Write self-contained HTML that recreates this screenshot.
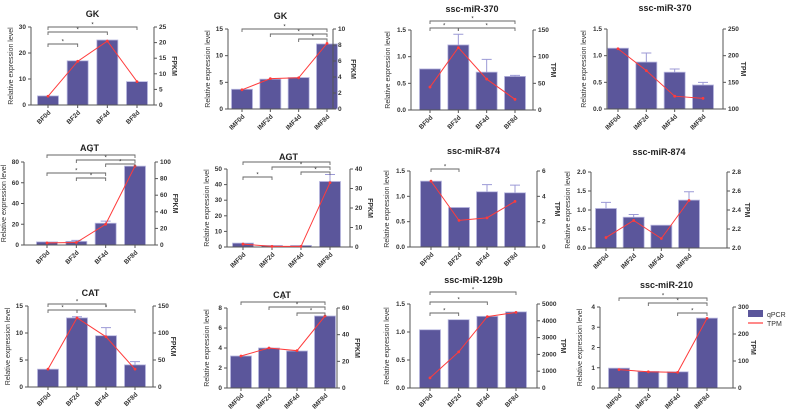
<!DOCTYPE html>
<html><head><meta charset="utf-8"><style>
body{margin:0;background:#fff}
svg{display:block;font-family:"Liberation Sans",Arial,sans-serif}
</style></head><body>
<svg id="fig" width="787" height="414" viewBox="0 0 787 414" xmlns="http://www.w3.org/2000/svg"></svg>
<script>
const bfCats = ["BF0d","BF2d","BF4d","BF8d"];
const imfCats = ["IMF0d","IMF2d","IMF4d","IMF8d"];
// values
const gkBfQ = [3.5,17,25,9];         const gkBfE = [null,null,null,null]; const gkBfS = [2.8,14,20.5,7.5];
const gkImfQ = [3.7,5.6,5.9,12.2];   const gkImfE = [null,null,null,null]; const gkImfS = [2.4,3.8,3.9,8.2];
const m370BfQ = [0.77,1.22,0.71,0.63]; const m370BfE = [null,1.42,0.95,0.65]; const m370BfS = [43,117,58,20];
const m370ImfQ = [1.14,0.88,0.69,0.45]; const m370ImfE = [null,1.05,0.75,0.5]; const m370ImfS = [213,172,124,120];
const agtBfQ = [3,3.5,21,76];        const agtBfE = [null,4.5,23,null]; const agtBfS = [2.5,3,25,95];
const agtImfQ = [2.5,1,1,42];        const agtImfE = [null,null,null,46.5]; const agtImfS = [1.5,0.3,0.3,33];
const m874BfQ = [1.3,0.78,1.09,1.07]; const m874BfE = [null,null,1.23,1.22]; const m874BfS = [5.2,2.1,2.3,3.6];
const m874ImfQ = [1.04,0.81,0.6,1.26]; const m874ImfE = [1.2,0.88,null,1.48]; const m874ImfS = [2.11,2.29,2.1,2.5];
const catBfQ = [3.3,12.8,9.5,4.1];   const catBfE = [null,13,11,4.7]; const catBfS = [33,128,93,33];
const catImfQ = [3.2,4.0,3.7,7.2];   const catImfE = [null,null,null,null]; const catImfS = [24,30,28,54];
const m129BfQ = [1.04,1.22,1.28,1.36]; const m129BfE = [null,null,null,null]; const m129BfS = [600,2150,4250,4500];
const m210ImfQ = [0.98,0.82,0.8,3.45]; const m210ImfE = [null,null,null,null]; const m210ImfS = [68,60,58,258];
// tick labels
const t30=[0,10,20,30], t25=[0,5,10,15,20,25], t15=[0,5,10,15], t10=[0,2,4,6,8,10];
const t15d=[0,0.5,1.0,1.5], t150=[0,50,100,150], t250=[100,150,200,250];
const t80=[0,20,40,60,80], t100=[0,20,40,60,80,100], t50=[0,10,20,30,40,50], t40=[0,10,20,30,40];
const t6=[0,2,4,6], t20=[0,0.5,1.0,1.5,2.0], t28=[2.0,2.2,2.4,2.6,2.8];
const t8=[0,2,4,6,8], t60=[0,20,40,60], t5000=[0,1000,2000,3000,4000,5000], t4=[0,1,2,3,4], t300=[0,100,200,300];

const panels=[
 {n:"gk-bf",title:"GK",cats:bfCats,q:gkBfQ,e:gkBfE,s:gkBfS,lt:t30,rt:t25,rl:"FPKM",dec:0,x0:31,x1:154,yt:27,yb:105,c0:48,c3:137,ty:17,br:[[0,3,27],[0,2,32],[0,1,44]]},
 {n:"gk-imf",title:"GK",cats:imfCats,q:gkImfQ,e:gkImfE,s:gkImfS,lt:t15,rt:t10,rl:"FPKM",dec:0,x0:228,x1:333,yt:29,yb:109,c0:242,c3:327,ty:19,br:[[0,3,29],[1,3,34],[2,3,39]]},
 {n:"mir370-bf",title:"ssc-miR-370",cats:bfCats,q:m370BfQ,e:m370BfE,s:m370BfS,lt:t15d,rt:t150,rl:"TPM",dec:1,x0:411,x1:533,yt:30,yb:110,c0:430,c3:515,ty:12,br:[[0,3,21],[0,1,28],[1,3,28]]},
 {n:"mir370-imf",title:"ssc-miR-370",cats:imfCats,q:m370ImfQ,e:m370ImfE,s:m370ImfS,lt:t15d,rt:t250,rl:"TPM",dec:1,x0:607,x1:723,yt:29,yb:109,c0:618,c3:703,ty:11,br:[]},
 {n:"agt-bf",title:"AGT",cats:bfCats,q:agtBfQ,e:agtBfE,s:agtBfS,lt:t80,rt:t100,rl:"FPKM",dec:0,x0:24,x1:155,yt:162,yb:245,c0:47,c3:135,ty:151,br:[[0,3,155],[1,3,160],[2,3,164],[0,2,173],[1,2,178]]},
 {n:"agt-imf",title:"AGT",cats:imfCats,q:agtImfQ,e:agtImfE,s:agtImfS,lt:t50,rt:t40,rl:"FPKM",dec:0,x0:227,x1:350,yt:169,yb:247,c0:243,c3:330,ty:160,br:[[0,3,162],[1,3,167],[2,3,172],[0,1,177]]},
 {n:"mir874-bf",title:"ssc-miR-874",cats:bfCats,q:m874BfQ,e:m874BfE,s:m874BfS,lt:t15d,rt:t6,rl:"TPM",dec:1,x0:410,x1:537,yt:171,yb:247,c0:431,c3:515,ty:154,br:[[0,1,169]]},
 {n:"mir874-imf",title:"ssc-miR-874",cats:imfCats,q:m874ImfQ,e:m874ImfE,s:m874ImfS,lt:t20,rt:t28,rl:"TPM",dec:1,x0:591,x1:727,yt:172,yb:248,c0:606,c3:689,ty:155,br:[],rdec:1},
 {n:"cat-bf",title:"CAT",cats:bfCats,q:catBfQ,e:catBfE,s:catBfS,lt:t15,rt:t150,rl:"FPKM",dec:0,x0:28,x1:153,yt:306,yb:387,c0:48,c3:135,ty:296,br:[[0,2,304],[0,1,310],[1,3,310]]},
 {n:"cat-imf",title:"CAT",cats:imfCats,q:catImfQ,e:catImfE,s:catImfS,lt:t8,rt:t60,rl:"FPKM",dec:0,x0:227,x1:337,yt:308,yb:388,c0:241,c3:325,ty:298,br:[[0,3,302],[1,3,307],[2,3,313]]},
 {n:"mir129b-bf",title:"ssc-miR-129b",cats:bfCats,q:m129BfQ,e:m129BfE,s:m129BfS,lt:t15d,rt:t5000,rl:"TPM",dec:1,x0:410,x1:537,yt:304,yb:388,c0:430,c3:516,ty:283,br:[[0,3,292],[0,2,302],[0,1,313]]},
 {n:"mir210-imf",title:"ssc-miR-210",cats:imfCats,q:m210ImfQ,e:m210ImfE,s:m210ImfS,lt:t4,rt:t300,rl:"TPM",dec:0,x0:600,x1:733,yt:307,yb:388,c0:619,c3:707,ty:288,br:[[0,3,298],[1,3,303],[2,3,313]]}
];
const NS="http://www.w3.org/2000/svg", svg=document.getElementById("fig");
function mk(tag,at,parent,txt){const e=document.createElementNS(NS,tag);for(const k in at)e.setAttribute(k,at[k]);if(txt!=null)e.textContent=txt;(parent||svg).appendChild(e);return e;}
const ax="#555", barC="#5b569b", barEdge="#b9b8e0", errC="#9c9ad6", lineC="#ff3b3b";
panels.forEach(p=>{
  const g=mk("g",{});
  
  
  const lmin=p.lt[0],lmax=p.lt[p.lt.length-1],rmin=p.rt[0],rmax=p.rt[p.rt.length-1];
  const yL=v=>p.yb-(v-lmin)/(lmax-lmin)*(p.yb-p.yt);
  const yR=v=>p.yb-(v-rmin)/(rmax-rmin)*(p.yb-p.yt);
  const xC=i=>p.c0+i*(p.c3-p.c0)/(p.cats.length-1);
  const bw=21;
  const t=mk("text",{x:(p.x0+p.x1)/2,y:p.ty,"text-anchor":"middle","font-size":9,"font-weight":"bold",fill:"#222"},g,p.title);
  
  
  p.q.forEach((v,i)=>{
    const r=mk("rect",{x:xC(i)-bw/2,y:yL(v),width:bw,height:p.yb-yL(v),fill:barC,stroke:barEdge,"stroke-width":0.8},g);
    
    
    if(p.e[i]!=null){
      const eb=mk("path",{d:`M${xC(i)} ${yL(v)}V${yL(p.e[i])}M${xC(i)-5} ${yL(p.e[i])}H${xC(i)+5}`,stroke:errC,"stroke-width":1,fill:"none"},g);
      
      
    }
  });
  mk("path",{d:`M${p.x0} ${p.yt}V${p.yb}H${p.x1}V${p.yt}`,stroke:ax,"stroke-width":1,fill:"none"},g);
  p.lt.forEach(v=>{
    mk("path",{d:`M${p.x0-3} ${yL(v)}H${p.x0}`,stroke:ax},g);
    mk("text",{x:p.x0-5,y:yL(v)+2,"text-anchor":"end","font-size":6.5,"font-weight":"bold",fill:"#333"},g,p.dec?v.toFixed(1):v);
  });
  p.rt.forEach(v=>{
    mk("path",{d:`M${p.x1} ${yR(v)}H${p.x1+3}`,stroke:ax},g);
    mk("text",{x:p.x1+5,y:yR(v)+2,"font-size":6.5,"font-weight":"bold",fill:"#333"},g,p.rdec?v.toFixed(1):v);
  });
  const lt=mk("text",{transform:`translate(${p.x0-(p.dec?21:18)},${(p.yt+p.yb)/2}) rotate(-90)`,"text-anchor":"middle","font-size":7,fill:"#333"},g,"Relative expression level");
  
  
  const rt=mk("text",{transform:`translate(${p.x1+(p.rt[p.rt.length-1]>=1000?24:18)},${(p.yt+p.yb)/2}) rotate(90)`,"text-anchor":"middle","font-size":7,"font-weight":"bold",fill:"#333"},g,p.rl);
  
  
  p.cats.forEach((c,i)=>{
    mk("path",{d:`M${xC(i)} ${p.yb}V${p.yb+3}`,stroke:ax},g);
    const xl=mk("text",{transform:`translate(${xC(i)+3},${p.yb+8}) rotate(-45)`,"text-anchor":"end","font-size":6.5,"font-weight":"bold",fill:"#333"},g,c);
    
    
  });
  const pts=p.s.map((v,i)=>xC(i)+","+yR(v)).join(" ");
  const ln=mk("polyline",{points:pts,fill:"none",stroke:lineC,"stroke-width":1},g);
  
  
  p.s.forEach((v,i)=>mk("circle",{cx:xC(i),cy:yR(v),r:1.4,fill:lineC},g));
  p.br.forEach(b=>{
    const a=xC(b[0]),c=xC(b[1]);
    const bk=mk("path",{d:`M${a} ${b[2]+3}V${b[2]}H${c}V${b[2]+3}`,stroke:"#666","stroke-width":0.9,fill:"none"},g);
    
    
    mk("text",{x:(a+c)/2,y:b[2]-0.5,"text-anchor":"middle","font-size":6,fill:"#333"},g,"*");
  });
});
const lg=mk("g",{});


const l1=mk("rect",{x:748,y:310,width:15,height:7,fill:barC},lg);


mk("text",{x:767,y:317,"font-size":7,fill:"#333"},lg,"qPCR");
const l2=mk("path",{d:"M748 323H763",stroke:lineC,"stroke-width":1.2},lg);


mk("text",{x:767,y:326,"font-size":7,fill:"#333"},lg,"TPM");
</script>
</body></html>
